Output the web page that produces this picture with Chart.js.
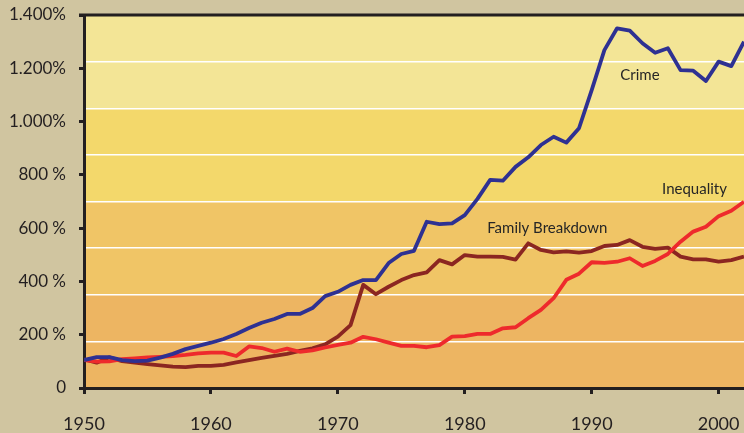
<!DOCTYPE html>
<html>
<head>
<meta charset="utf-8">
<script src="https://cdn.jsdelivr.net/npm/chart.js@4/dist/chart.umd.min.js"></script>
<style>
  html, body { margin: 0; padding: 0; background: #d0c5a0; }
  #wrap { width: 744px; height: 433px; }
</style>
</head>
<body>
<div id="wrap"><canvas id="chart"></canvas></div>
<script>
const years = [];
for (let y = 1950; y <= 2002; y++) years.push(y);

const crime = [105, 116, 116, 105, 101, 103, 114, 128, 146, 158,
  170, 184, 203, 225, 245, 259, 278, 278, 300, 345,
  361, 387, 405, 405, 469, 503, 515, 624, 615, 618,
  649, 710, 781, 778, 830, 866, 912, 943, 921, 975,
  1118, 1268, 1350, 1341, 1294, 1258, 1275, 1193, 1191, 1152,
  1225, 1208, 1300];

const familyBreakdown = [108, 95, 115, 101, 95, 90, 85, 80, 78, 83,
  83, 87, 96, 105, 113, 121, 128, 139, 149, 164,
  193, 236, 387, 352, 380, 405, 424, 434, 480, 464,
  499, 493, 493, 492, 482, 543, 518, 509, 513, 508,
  514, 533, 537, 555, 530, 522, 527, 493, 483, 483,
  474, 480, 493];

const inequality = [105, 99, 100, 108, 111, 115, 117, 120, 124, 130,
  133, 133, 120, 156, 150, 136, 148, 136, 141, 152,
  162, 170, 192, 183, 170, 158, 158, 153, 161, 193,
  195, 203, 203, 224, 228, 262, 293, 337, 406, 429,
  472, 470, 474, 487, 458, 477, 503, 549, 587, 605,
  645, 665, 699];

const yTicks = [0, 200, 400, 600, 800, 1000, 1200, 1400];
const yTickLabels = ["0", "200 %", "400 %", "600 %", "800 %", "1.000%", "1.200%", "1.400%"];
const xTicks = [1950, 1960, 1970, 1980, 1990, 2000];

const seriesLabels = [
  { text: "Crime", x: 1993.8, y: 1175 },
  { text: "Inequality", x: 1998.1, y: 745 },
  { text: "Family Breakdown", x: 1986.5, y: 600 }
];

const ink = "#231f20";

const toXY = (vals) => vals.map((v, i) => ({ x: years[i], y: v }));

// background bands + top frame + series names
const decor = {
  id: "decor",
  beforeDraw(chart) {
    const { ctx, chartArea: a, scales } = chart;
    const b = scales.bands;
    const colors = ["#edb562", "#f0c566", "#f3d86b", "#f3e596"];
    ctx.save();
    colors.forEach((c, i) => {
      const y1 = b.getPixelForValue(i * 2);
      const y2 = b.getPixelForValue(i * 2 + 2);
      ctx.fillStyle = c;
      ctx.fillRect(a.left, y2, a.right - a.left, y1 - y2);
    });
    ctx.restore();
  },
  afterDraw(chart) {
    const { ctx, chartArea: a, scales } = chart;
    ctx.save();
    ctx.strokeStyle = ink;
    ctx.lineWidth = 3;
    ctx.beginPath();
    ctx.moveTo(a.left - 5, a.top);
    ctx.lineTo(a.right, a.top);
    ctx.stroke();
    ctx.fillStyle = "#262626";
    ctx.font = "15px Lato";
    ctx.textAlign = "center";
    ctx.textBaseline = "middle";
    seriesLabels.forEach(l => {
      ctx.fillText(l.text, scales.x.getPixelForValue(l.x), scales.y.getPixelForValue(l.y));
    });
    ctx.restore();
  }
};

new Chart(document.getElementById("chart"), {
  type: "line",
  data: {
    datasets: [
      { label: "Family Breakdown", data: toXY(familyBreakdown), borderColor: "#8b2621", order: 3 },
      { label: "Inequality", data: toXY(inequality), borderColor: "#ee2a2c", order: 2 },
      { label: "Crime", data: toXY(crime), borderColor: "#2e3192", order: 1 }
    ]
  },
  options: {
    responsive: true,
    maintainAspectRatio: false,
    animation: false,
    layout: { padding: { top: 15, right: 0, left: 0, bottom: 0 } },
    elements: {
      line: { borderWidth: 3.8, tension: 0, borderJoinStyle: "round" },
      point: { radius: 0 }
    },
    plugins: { legend: { display: false }, tooltip: { enabled: false } },
    scales: {
      x: {
        type: "linear",
        min: 1950,
        max: 2002,
        afterBuildTicks: s => { s.ticks = xTicks.map(v => ({ value: v })); },
        afterFit: s => { s.height = 45; s.paddingLeft = 0; s.paddingRight = 0; },
        ticks: {
          color: ink,
          font: { family: "Lato", size: 18 },
          padding: 19,
          maxRotation: 0,
          callback: v => String(v)
        },
        grid: { drawOnChartArea: false, drawTicks: true, tickLength: 6, color: ink, lineWidth: 3 },
        border: { display: true, color: ink, width: 3 }
      },
      y: {
        min: 0,
        max: 1400,
        afterBuildTicks: s => { s.ticks = yTicks.map(v => ({ value: v })); },
        afterFit: s => { s.width = 84; s.paddingTop = 0; s.paddingBottom = 0; },
        ticks: {
          color: ink,
          font: { family: "Lato", size: 17 },
          padding: 13,
          callback: v => yTickLabels[yTicks.indexOf(v)]
        },
        grid: { drawOnChartArea: false, drawTicks: true, tickLength: 5, color: ink, lineWidth: 3 },
        border: { display: true, color: ink, width: 3 }
      },
      bands: {
        position: "right",
        min: 0,
        max: 8,
        ticks: { display: false, stepSize: 1 },
        afterFit: s => { s.width = 0; },
        grid: { drawTicks: false, color: "#ffffff", lineWidth: 1.5 },
        border: { display: false }
      }
    }
  },
  plugins: [decor]
});
</script>
</body>
</html>
